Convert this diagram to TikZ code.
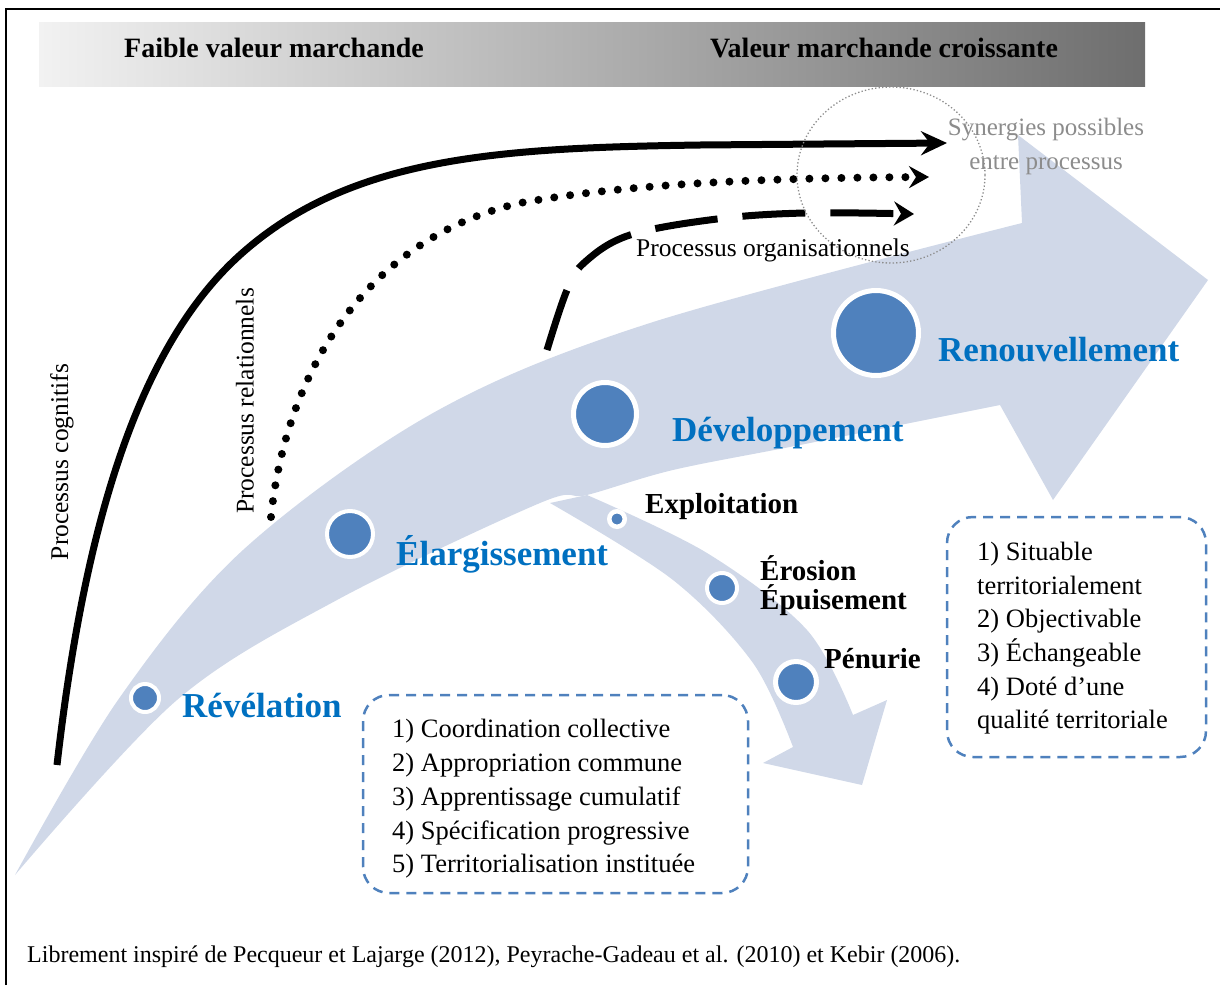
\documentclass[tikz,border=0pt]{standalone}
\usepackage{fontspec}
\setmainfont{Liberation Serif}
\usetikzlibrary{arrows.meta}
\definecolor{band}{RGB}{208,216,232}
\definecolor{dotc}{RGB}{79,129,189}
\definecolor{lblc}{RGB}{0,112,192}
\definecolor{sync}{RGB}{140,140,140}
\definecolor{barL}{RGB}{242,242,242}
\definecolor{barM}{RGB}{192,192,192}
\definecolor{barR}{RGB}{110,110,110}
\begin{document}
\begin{tikzpicture}[x=1pt,y=-1pt,
  head/.style={font=\fontsize{28}{32}\selectfont\bfseries, inner sep=0, anchor=base},
  lbl/.style={font=\fontsize{35}{40}\selectfont\bfseries, text=lblc, inner sep=0, anchor=base west},
  blk/.style={font=\fontsize{29}{32}\selectfont\bfseries, inner sep=0, anchor=base west},
  txt/.style={font=\fontsize{26.5}{34}\selectfont, inner sep=0, anchor=base west},
  rtxt/.style={font=\fontsize{25.5}{34}\selectfont, inner sep=0, anchor=center, rotate=90},
  stage/.style={circle, fill=dotc, draw=white, inner sep=0},
  box/.style={draw=dotc, line width=2.5pt, dash pattern=on 10pt off 7pt, rounded corners=26pt, inner sep=0},
  proc/.style={line width=7pt}
]
\useasboundingbox (0,0) rectangle (1220,985);
% frame
\draw[line width=2pt] (6,985) -- (6,8.5) -- (1220,8.5);
% gradient bar
\shade[left color=barL, middle color=barM, right color=barR] (39,22) rectangle (1145,86);
\node[head] (h1) at (274,57) {Faible valeur marchande};
\node[head] (h2) at (884,57) {Valeur marchande croissante};

% main arrow
\fill[band] plot[smooth, tension=0.55] coordinates {(15,875) (118,700) (243,550) (433,413) (650,323) (1022,223)}
  -- (1018,135) -- (1208,280) -- (1053,500)
  -- plot[smooth, tension=0.55] coordinates {(1000,405) (800,445) (673,470) (587,495) (540,503) (337,600) (177,700) (15,875)} -- cycle;
% branch arrow
\fill[band] plot[smooth, tension=0.55] coordinates {(587,495) (707,553) (807,630) (853,715)}
  -- (887,700) -- (862,785) -- (763,763)
  -- plot[smooth, tension=0.55] coordinates {(793,747) (753,663) (673,580) (550,503)} -- cycle;

% process lines
\coordinate (cogS) at (57,765);
\coordinate (cogM) at (240,255);
\coordinate (cogE) at (947,143);
\draw[proc, -{Stealth[length=26pt,width=24pt,inset=9pt]}] (cogS) .. controls (85,520) and (140,345) .. (cogM)
  .. controls (350,156) and (500,148) .. (700,145) -- (cogE);
\coordinate (relS) at (271,517);
\coordinate (relM) at (520,203);
\coordinate (relE) at (929,177);
\draw[line width=8pt, line cap=round, dash pattern=on 0pt off 16pt, -{Stealth[length=20pt,width=22pt,inset=7pt]}] (relS) .. controls (285,380) and (360,240) .. (relM)
  .. controls (620,185) and (750,178) .. (relE);
\draw[proc, dash pattern=on 63pt off 25pt, -{Stealth[length=20pt,width=24pt,inset=7pt]}] plot[smooth, tension=0.6] coordinates {(547,350) (567,290) (585,262) (630,235) (717,219) (805,213) (914,214)};

% synergies circle
\draw[sync, line width=1.3pt, dash pattern=on 1.3pt off 2.2pt] (891,175) ellipse [x radius=94, y radius=88];
\node[font=\fontsize{25}{34}\selectfont, text=sync, inner sep=0, anchor=base] (syn1) at (1046,135) {Synergies possibles};
\node[font=\fontsize{25}{34}\selectfont, text=sync, inner sep=0, anchor=base] (syn2) at (1046,169) {entre processus};

\node[txt, font=\fontsize{25.5}{34}\selectfont] (porg) at (636,256) {Processus organisationnels};
\node[rtxt] (pcog) at (62,462) {Processus cognitifs};
\node[rtxt] (prel) at (245,401) {Processus relationnels};

% stages
\node[stage, minimum size=28pt, line width=4pt] (c1) at (145,698) {};
\node[stage, minimum size=46pt, line width=4pt] (c2) at (350,534) {};
\node[stage, minimum size=63pt, line width=5pt] (c3) at (605,414) {};
\node[stage, minimum size=85pt, line width=5pt] (c4) at (876,333) {};
\node[stage, minimum size=15.5pt, line width=4.5pt] (c5) at (617,519) {};
\node[stage, minimum size=30pt, line width=4pt] (c6) at (722,588) {};
\node[stage, minimum size=41pt, line width=5pt] (c7) at (796,682) {};

\node[lbl] (l1) at (182,717) {Révélation};
\node[lbl] (l2) at (396,565) {Élargissement};
\node[lbl] (l3) at (672,441) {Développement};
\node[lbl] (l4) at (938,361) {Renouvellement};
\node[blk] (b1) at (645,513) {Exploitation};
\node[blk] (b2) at (760,580) {Érosion};
\node[blk] (b3) at (760,609) {Épuisement};
\node[blk] (b4) at (824,668) {Pénurie};

% boxes
\node[box, minimum width=385pt, minimum height=198pt] (boxA) at (555.5,794) {};
\node[box, minimum width=259pt, minimum height=240pt] (boxB) at (1076.5,637) {};
\node[txt] (a1) at (392,737) {1) Coordination collective};
\node[txt] (a2) at (392,771) {2) Appropriation commune};
\node[txt] (a3) at (392,805) {3) Apprentissage cumulatif};
\node[txt] (a4) at (392,839) {4) Spécification progressive};
\node[txt] (a5) at (392,872) {5) Territorialisation instituée};
\node[txt] (r1) at (977,560) {1) Situable};
\node[txt] (r2) at (977,594) {territorialement};
\node[txt] (r3) at (977,627) {2) Objectivable};
\node[txt] (r4) at (977,661) {3) Échangeable};
\node[txt] (r5) at (977,695) {4) Doté d’une};
\node[txt] (r6) at (977,728) {qualité territoriale};

\node[font=\fontsize{24}{28}\selectfont, inner sep=0, anchor=base west] (foot) at (27,962) {Librement inspiré de Pecqueur et Lajarge (2012), Peyrache-Gadeau et al. (2010) et Kebir (2006).};
\end{tikzpicture}
\end{document}
